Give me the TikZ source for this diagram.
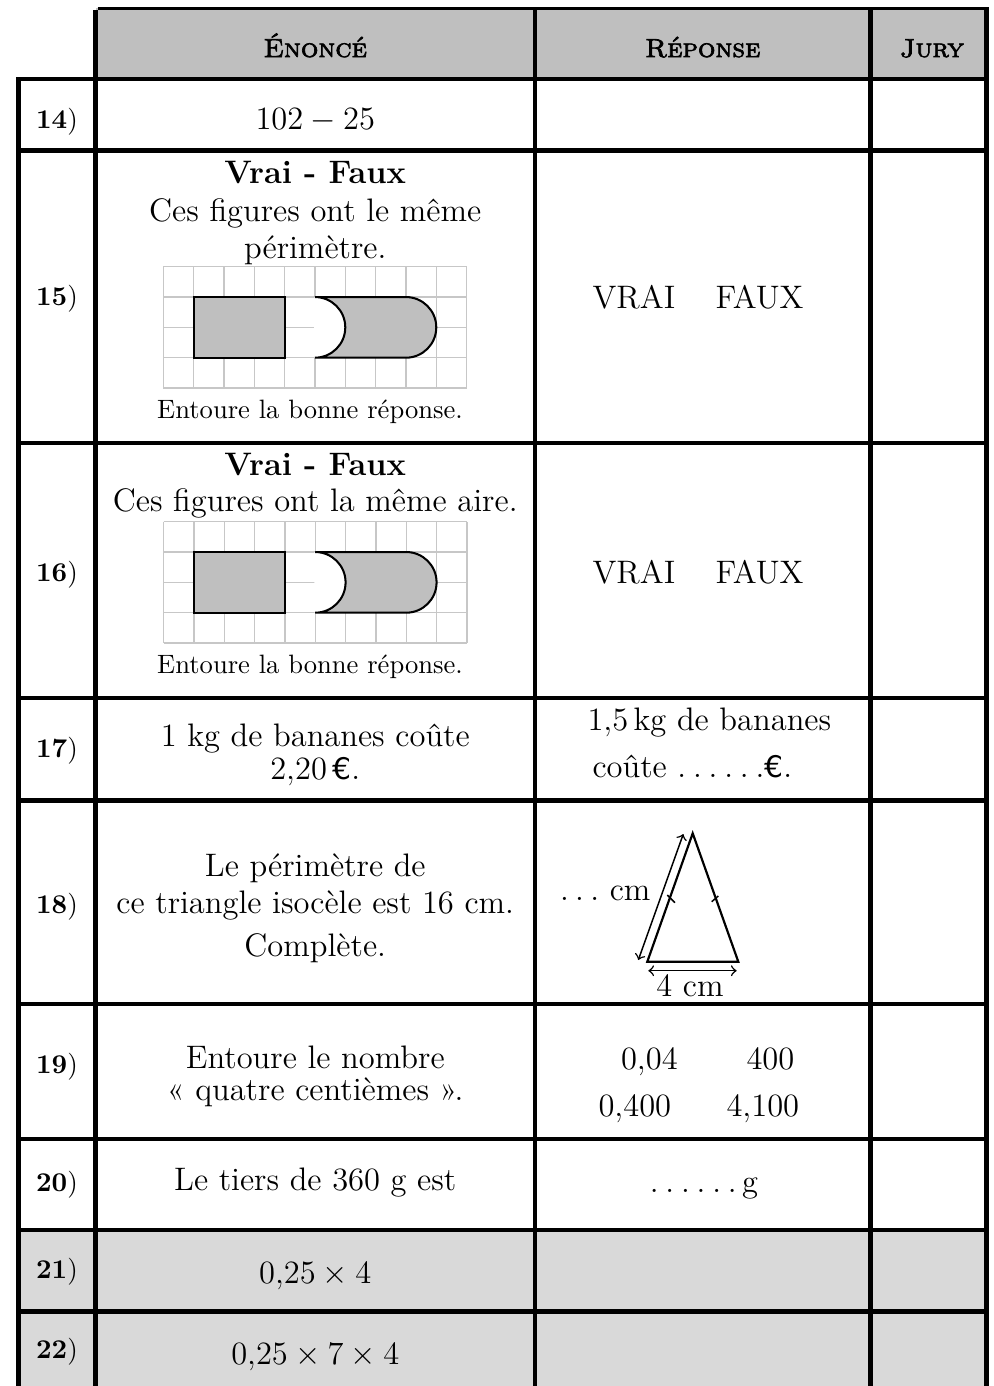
\documentclass[tikz,border=0pt]{standalone}
\usepackage{fontspec}
\newfontfamily\hdrfont{lmromancaps10-regular.otf}[FakeBold=2.6,FakeStretch=1.06]
\newfontfamily\eurofont{DejaVu Sans}
\newcommand\eur{{\eurofont\fontsize{11}{13}\selectfont €}}
\newcommand\dotsix{.\kern2.5pt.\kern2.5pt.\kern2.5pt.\kern2.5pt.\kern2.5pt.}
\newcommand\dotthree{.\kern2.3pt.\kern2.3pt.}
\begin{document}
\begin{tikzpicture}[x=0.36886pt,y=-0.36886pt,
  rule/.style={line width=1.6pt},
  txt/.style={font=\fontsize{12}{14}\selectfont, inner sep=0pt, anchor=base},
  lbl/.style={font=\fontsize{10}{12}\selectfont, inner sep=0pt, anchor=base},
  smalltxt/.style={font=\fontsize{9.8}{12}\selectfont, inner sep=0pt, anchor=base},
  hdr/.style={font=\hdrfont\fontsize{9.6}{11}\selectfont, inner sep=0pt, anchor=base},
  gridline/.style={draw=black!22, line width=0.55pt},
  figshape/.style={draw=black, fill=black!25, line width=0.75pt},
  tri/.style={line width=0.8pt, line join=miter},
  dim/.style={<->, line width=0.55pt},
  tick/.style={line width=0.55pt}
]
\useasboundingbox (0,0) rectangle (993,1386);
% fills
\fill[black!25] (95.5,8.3) rectangle (986.5,79);
\fill[black!15] (18.5,1230) rectangle (986.5,1386);
% rules
\draw[line width=1.2pt] (97.5,8.3) -- (988.6,8.3);
\foreach \yy in {79,150.5,443.3,698.3,800.5,1004,1138.8,1230,1311.5}
  \draw[rule] (16.4,\yy) -- (988.6,\yy);
\draw[rule] (18.5,77) -- (18.5,1386);
\foreach \xx in {95.5,535,870.5,986.5}
  \draw[rule] (\xx,10) -- (\xx,1386);
% header
\node[hdr] (h1) at (315.25,57) {Énoncé};
\node[hdr] (h2) at (702.75,57) {Réponse};
\node[hdr] (h3) at (932,57) {Jury};
% labels
\node[lbl] (l14) at (57,128.3) {\textbf{14})};
\node[lbl] (l15) at (57,305.5) {\textbf{15})};
\node[lbl] (l16) at (57,581) {\textbf{16})};
\node[lbl] (l17) at (57,757.3) {\textbf{17})};
\node[lbl] (l18) at (57,913) {\textbf{18})};
\node[lbl] (l19) at (57,1073) {\textbf{19})};
\node[lbl] (l20) at (57,1191) {\textbf{20})};
\node[lbl] (l21) at (57,1278.3) {\textbf{21})};
\node[lbl] (l22) at (57,1358.3) {\textbf{22})};
% row 14
\node[txt] (e14) at (315.25,129) {$102-25$};
% row 15
\node[txt] (e15a) at (315.25,183) {\textbf{Vrai - Faux}};
\node[txt] (e15b) at (315.25,221.7) {Ces figures ont le même};
\node[txt] (e15c) at (315.25,258.3) {périmètre.};
\begin{scope}[shift={(163.3,266.7)}, x=11.188pt, y=-11.188pt]
  \foreach \i in {0,...,10} \draw[gridline] (\i,0) -- (\i,4);
  \foreach \j in {0,...,4} \draw[gridline] (0,\j) -- (10,\j);
  \fill[white] (4.97,1) -- (5,1) arc[start angle=-90,end angle=90,radius=1] -- (4.97,3) -- cycle;
  \draw[figshape] (1,1) rectangle (4,3);
  \draw[figshape] (5,1) -- (8,1) arc[start angle=-90,end angle=90,radius=1]
     -- (5,3) arc[start angle=90,end angle=-90,radius=1] -- cycle;
\end{scope}
\node[smalltxt] (e15d) at (310,418) {Entoure la bonne réponse.};
\node[txt, anchor=base west] (r15a) at (592,308) {VRAI};
\node[txt, anchor=base west] (r15b) at (715,308) {FAUX};
% row 16
\node[txt] (e16a) at (315.25,475) {\textbf{Vrai - Faux}};
\node[txt] (e16b) at (315.25,511.7) {Ces figures ont la même aire.};
\begin{scope}[shift={(163.6,521.7)}, x=11.188pt, y=-11.188pt]
  \foreach \i in {0,...,10} \draw[gridline] (\i,0) -- (\i,4);
  \foreach \j in {0,...,4} \draw[gridline] (0,\j) -- (10,\j);
  \fill[white] (4.97,1) -- (5,1) arc[start angle=-90,end angle=90,radius=1] -- (4.97,3) -- cycle;
  \draw[figshape] (1,1) rectangle (4,3);
  \draw[figshape] (5,1) -- (8,1) arc[start angle=-90,end angle=90,radius=1]
     -- (5,3) arc[start angle=90,end angle=-90,radius=1] -- cycle;
\end{scope}
\node[smalltxt] (e16d) at (310,673.3) {Entoure la bonne réponse.};
\node[txt, anchor=base west] (r16a) at (592,583) {VRAI};
\node[txt, anchor=base west] (r16b) at (715,583) {FAUX};
% row 17
\node[txt] (e17a) at (315.25,746) {1 kg de bananes coûte};
\node[txt] (e17b) at (315.25,779) {2,20\,\eur.};
\node[txt, anchor=base west] (r17a) at (587,730.7) {1,5\,kg de bananes};
\node[txt, anchor=base west] (r17b) at (592,777) {coûte \dotsix\eur.};
% row 18
\node[txt] (e18a) at (315.25,876.7) {Le périmètre de};
\node[txt] (e18b) at (315.25,913.3) {ce triangle isocèle est 16 cm.};
\node[txt] (e18c) at (315.25,956.7) {Complète.};
\coordinate (TA) at (692.7,833.3);
\coordinate (TB) at (647.3,961.7);
\coordinate (TC) at (738.3,961.7);
\draw[tri] (TA) -- (TB) -- (TC) -- cycle;
\coordinate (AL1) at (638.3,960);
\coordinate (AL2) at (683.3,834);
\draw[dim] (AL1) -- (AL2);
\coordinate (AB1) at (648.3,970.7);
\coordinate (AB2) at (736.7,970.7);
\draw[dim] (AB1) -- (AB2);
\coordinate (K1a) at (667.3,895); \coordinate (K1b) at (675,902.7);
\coordinate (K2a) at (711.7,901.7); \coordinate (K2b) at (718.3,896);
\draw[tick] (K1a) -- (K1b);
\draw[tick] (K2a) -- (K2b);
\node[txt] (fourcm) at (690,996) {4 cm};
\node[txt, anchor=base east] (dotcm) at (651,900) {\dotthree\ cm};
% row 19
\node[txt] (e19a) at (315.25,1068.3) {Entoure le nombre};
\node[txt] (e19b) at (315.25,1100) {« quatre centièmes ».};
\node[txt, anchor=base west] (r19a) at (620.5,1069) {0,04};
\node[txt, anchor=base west] (r19b) at (746,1069) {400};
\node[txt, anchor=base west] (r19c) at (598,1116) {0,400};
\node[txt, anchor=base west] (r19d) at (726,1116) {4,100};
% row 20
\node[txt] (e20) at (315.25,1190) {Le tiers de 360 g est};
\node[txt] (r20) at (704,1192) {\dotsix\,g};
% rows 21-22
\node[txt] (e21) at (315.25,1283) {$0{,}25\times 4$};
\node[txt] (e22) at (315.25,1364) {$0{,}25\times 7\times 4$};
\end{tikzpicture}
\end{document}
